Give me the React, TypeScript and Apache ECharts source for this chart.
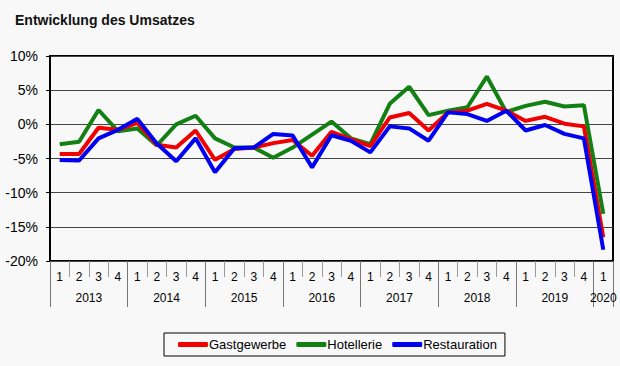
import React, { useEffect, useRef } from "react";
import * as echarts from "echarts";

const years = ["2013", "2014", "2015", "2016", "2017", "2018", "2019", "2020"];
const quarters: string[] = [];
years.forEach((y) => {
  const n = y === "2020" ? 1 : 4;
  for (let q = 1; q <= n; q++) quarters.push(y + "-" + q);
});

const yTicks = [-20, -15, -10, -5, 0, 5, 10];

const gastgewerbe = [-4.35, -4.35, -0.5, -0.8, 0.2, -3.0, -3.4, -0.9, -5.2, -3.6, -3.4, -2.75, -2.3, -4.6, -1.1, -2.15, -3.2, 1.0, 1.65, -0.9, 1.75, 2.0, 3.0, 2.0, 0.5, 1.1, 0.1, -0.3, -16.55];
const hotellerie = [-2.93, -2.55, 2.1, -1.0, -0.6, -3.1, 0.0, 1.25, -2.05, -3.4, -3.4, -4.9, -3.4, -1.5, 0.4, -2.05, -2.9, 3.0, 5.5, 1.35, 2.0, 2.5, 7.0, 1.8, 2.7, 3.3, 2.6, 2.8, -13.1];
const restauration = [-5.23, -5.3, -2.05, -0.8, 0.8, -2.8, -5.4, -2.05, -7.0, -3.5, -3.4, -1.4, -1.65, -6.3, -1.6, -2.4, -4.1, -0.3, -0.6, -2.4, 1.75, 1.5, 0.5, 2.0, -0.9, -0.1, -1.4, -2.05, -18.35];

// half-quarter positions for the year axis (0..2*N)
const halfSteps = Array.from({ length: quarters.length * 2 + 1 }, (_, i) => "h" + i);

function yearLabelAt(index: number): string {
  const total = quarters.length * 2;
  if (index === total - 1) return years[years.length - 1];
  if (index % 8 === 4) return years[Math.floor(index / 8)];
  return "";
}

const FONT = "Liberation Sans, Arial, sans-serif";

export default function App() {
  const ref = useRef<HTMLDivElement>(null);
  useEffect(() => {
    document.body.style.margin = "0";
    const chart = echarts.init(ref.current!, null, { renderer: "svg" });
    const total = quarters.length * 2;
    chart.setOption({
      animation: false,
      backgroundColor: "#f8f8f8",
      title: {
        text: "Entwicklung des Umsatzes",
        left: 10,
        top: 8,
        textStyle: { fontSize: 14, fontWeight: "bold", fontFamily: FONT, color: "#111" },
      },
      grid: {
        left: 50,
        right: 7,
        top: 56,
        bottom: 105,
        show: true,
        borderColor: "#000",
        borderWidth: 2,
        backgroundColor: "transparent",
      },
      legend: {
        data: ["Gastgewerbe", "Hotellerie", "Restauration"],
        left: 164,
        top: 333,
        borderColor: "#000",
        borderWidth: 1,
        padding: [5, 8, 5, 14],
        icon: "roundRect",
        itemWidth: 30,
        itemHeight: 5,
        itemGap: 10,
        textStyle: { fontSize: 13, fontFamily: FONT, color: "#000", padding: [0, 0, 0, -4] },
      },
      xAxis: [
        {
          type: "category",
          data: quarters,
          boundaryGap: true,
          position: "bottom",
          axisLine: { show: false, onZero: false },
          axisTick: { show: true, interval: 0, length: 16, lineStyle: { color: "#999" } },
          axisLabel: {
            interval: 0,
            margin: 10,
            fontSize: 12,
            fontFamily: FONT,
            color: "#000",
            formatter: (v: string) => v.split("-")[1],
          },
          splitLine: { show: false },
        },
        {
          type: "category",
          data: halfSteps,
          boundaryGap: false,
          position: "bottom",
          axisLine: { show: false, onZero: false },
          axisTick: {
            show: true,
            interval: (i: number) => i % 8 === 0 || i === total,
            length: 46,
            lineStyle: { color: "#777" },
          },
          axisLabel: {
            interval: (i: number) => yearLabelAt(i) !== "",
            margin: 31,
            fontSize: 12,
            fontFamily: FONT,
            color: "#000",
            formatter: (_v: string, i: number) => yearLabelAt(i),
          },
          splitLine: { show: false },
        },
      ],
      yAxis: {
        type: "value",
        min: yTicks[0],
        max: yTicks[yTicks.length - 1],
        interval: 5,
        axisLine: { show: true, lineStyle: { color: "#000", width: 2 } },
        axisTick: { show: true, length: 4, lineStyle: { color: "#000" } },
        axisLabel: {
          margin: 12,
          fontSize: 14,
          fontFamily: FONT,
          color: "#000",
          formatter: (v: number) => v + "%",
        },
        splitLine: { show: true, lineStyle: { color: "#444", width: 1 } },
      },
      series: [
        {
          name: "Gastgewerbe",
          type: "line",
          data: gastgewerbe,
          xAxisIndex: 0,
          showSymbol: false,
          symbol: "none",
          color: "#f00000",
          lineStyle: { width: 4, color: "#f00000" },
          z: 3,
        },
        {
          name: "Hotellerie",
          type: "line",
          data: hotellerie,
          xAxisIndex: 0,
          showSymbol: false,
          symbol: "none",
          color: "#138013",
          lineStyle: { width: 4, color: "#138013" },
          z: 2,
        },
        {
          name: "Restauration",
          type: "line",
          data: restauration,
          xAxisIndex: 0,
          showSymbol: false,
          symbol: "none",
          color: "#0000f0",
          lineStyle: { width: 4, color: "#0000f0" },
          z: 4,
        },
      ],
    });
    return () => chart.dispose();
  }, []);
  return (
    <div
      ref={ref}
      style={{ position: "absolute", left: 0, top: 0, width: 620, height: 366 }}
    />
  );
}
